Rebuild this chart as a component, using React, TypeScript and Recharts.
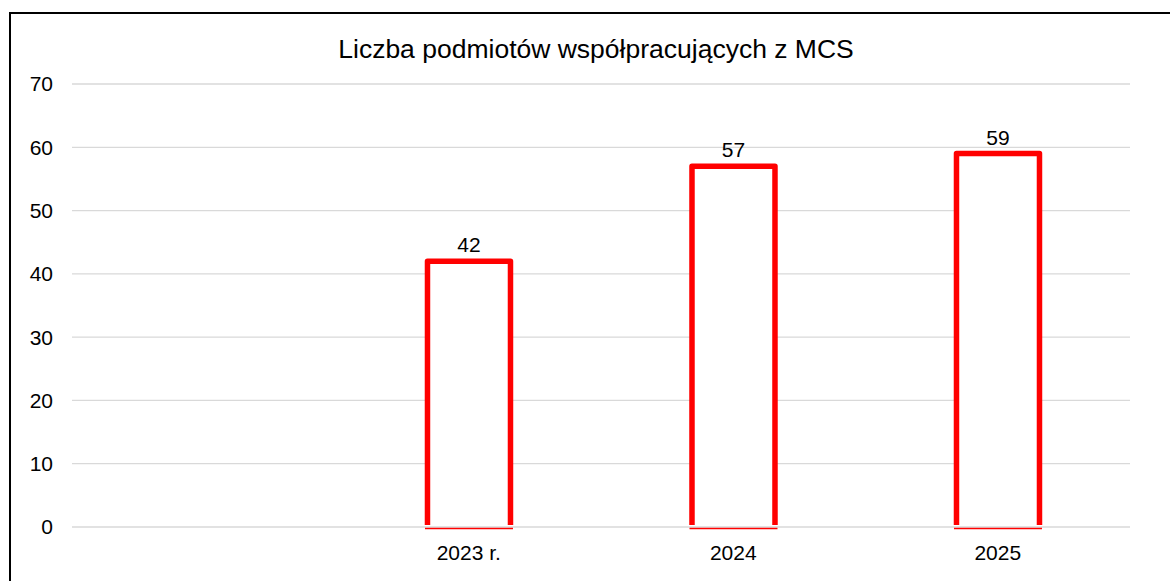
import React from "react";
import { BarChart, Bar, XAxis, YAxis, CartesianGrid, LabelList } from "recharts";

const title = "Liczba podmiotów współpracujących z MCS";
const years = ["", "2023 r.", "2024", "2025"];
const counts: (number | null)[] = [null, 42, 57, 59];
const yTicks = [0, 10, 20, 30, 40, 50, 60, 70];

const data = years.map((year, i) => ({ year, count: counts[i] }));

const RED = "#ff0000";
const FONT = "'Liberation Sans', Arial, sans-serif";

// outlined bar, open at the bottom, with a thin red line under the baseline
function OutlineBar(props: any) {
  const { x, y, width, height } = props;
  if (height == null || height <= 0) return null;
  const bottom = y + height;
  return (
    <g>
      <path
        d={`M${x},${bottom - 2} L${x},${y} L${x + width},${y} L${x + width},${bottom - 2}`}
        fill="#fff"
        stroke={RED}
        strokeWidth={5.5}
        strokeLinejoin="round"
      />
      <line x1={x - 2.5} x2={x + width + 2.5} y1={bottom + 1.5} y2={bottom + 1.5} stroke={RED} strokeWidth={1.5} />
    </g>
  );
}

export default function App() {
  return (
    <div
      style={{
        position: "absolute",
        left: 9,
        top: 12,
        width: 1170,
        height: 580,
        borderLeft: "2px solid #000",
        borderTop: "2px solid #000",
        background: "#fff",
        fontFamily: FONT,
      }}
    >
      <div
        style={{
          position: "absolute",
          left: -11,
          top: 22,
          width: 1192,
          textAlign: "center",
          fontSize: 26.5,
          lineHeight: "26px",
          color: "#000",
        }}
      >
        {title}
      </div>
      <BarChart
        width={1159}
        height={567}
        data={data}
        margin={{ top: 70, right: 40, left: 0, bottom: 24 }}
        barCategoryGap="34.4%"
      >
        <CartesianGrid vertical={false} stroke="#d9d9d9" strokeWidth={1.3} />
        <XAxis
          dataKey="year"
          axisLine={false}
          tickLine={false}
          tickMargin={12}
          tick={{ fill: "#000", fontSize: 21, fontFamily: FONT }}
          interval={0}
        />
        <YAxis
          width={61}
          domain={[0, 70]}
          ticks={yTicks}
          axisLine={false}
          tickLine={false}
          tickMargin={13}
          tick={{ fill: "#000", fontSize: 21, fontFamily: FONT }}
        />
        <Bar dataKey="count" shape={<OutlineBar />} isAnimationActive={false}>
          <LabelList dataKey="count" position="top" offset={9} fill="#000" fontSize={21} fontFamily={FONT} />
        </Bar>
      </BarChart>
    </div>
  );
}
